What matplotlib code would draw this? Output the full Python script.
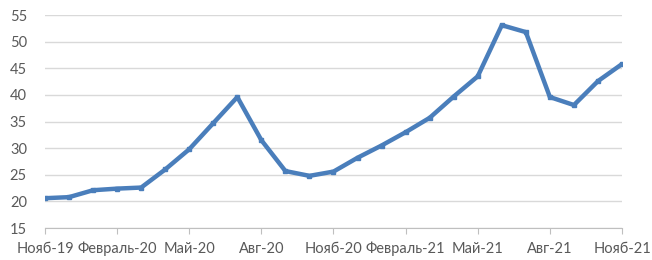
import matplotlib
matplotlib.use("Agg")
import matplotlib.pyplot as plt

months = ["Нояб-19", "Дек-19", "Янв-20", "Февраль-20", "Мар-20", "Апр-20", "Май-20",
          "Июн-20", "Июл-20", "Авг-20", "Сен-20", "Окт-20", "Нояб-20", "Дек-20",
          "Янв-21", "Февраль-21", "Мар-21", "Апр-21", "Май-21", "Июн-21", "Июл-21",
          "Авг-21", "Сен-21", "Окт-21", "Нояб-21"]
values = [20.6, 20.8, 22.1, 22.4, 22.6, 26.0, 29.8, 34.7, 39.6, 31.5, 25.7, 24.8,
          25.6, 28.2, 30.5, 33.0, 35.7, 39.7, 43.5, 53.1, 51.8, 39.6, 38.1, 42.6, 45.8]
yticks = [15, 20, 25, 30, 35, 40, 45, 50, 55]

plt.rcParams['font.family'] = ['Lato', 'DejaVu Sans']
fig = plt.figure(figsize=(6.52, 2.6), dpi=100)
ax = fig.add_axes([0.069, 0.123, 0.885, 0.819])
x = list(range(len(months)))
ax.plot(x, values, color="#4a7ebb", lw=3.2, marker="s", ms=3.5, solid_capstyle="round",
        solid_joinstyle="round", zorder=3)
ax.set_xlim(0, len(months) - 1)
ax.set_ylim(15, 55)
ax.set_yticks(yticks)
ax.set_xticks(x[::3])
ax.set_xticklabels(months[::3])
ax.grid(axis="y", color="#d9d9d9", lw=1)
for s in ["left", "right", "top"]:
    ax.spines[s].set_visible(False)
ax.spines["bottom"].set_color("#bfbfbf")
ax.tick_params(axis="y", length=0, labelsize=10.5, labelcolor="#595959", pad=13)
ax.tick_params(axis="x", length=4, color="#bfbfbf", labelsize=10.5, labelcolor="#595959", pad=6)
ax.set_axisbelow(True)
fig.savefig("out.png", dpi=100)
